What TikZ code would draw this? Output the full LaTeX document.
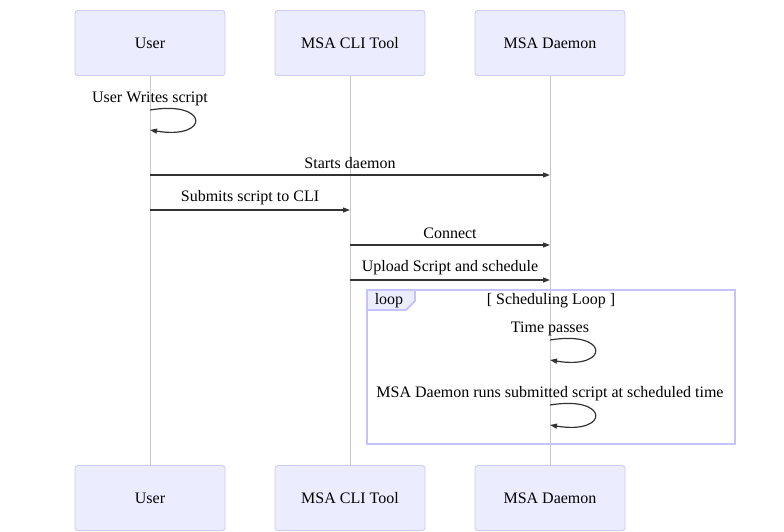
\documentclass[tikz,border=0pt]{standalone}
\usepackage{fontspec}
\setmainfont{Liberation Serif}
\usetikzlibrary{arrows.meta}
\definecolor{actfill}{HTML}{ECECFF}
\definecolor{actborder}{HTML}{CCCCF5}
\definecolor{loopborder}{HTML}{C4C4FA}
\definecolor{lifeline}{HTML}{C8C8C8}
\definecolor{msg}{HTML}{333333}
\begin{document}
\begin{tikzpicture}[x=1pt,y=-1pt,
  actor/.style={draw=actborder,fill=actfill,rounded corners=3pt,line width=0.9pt,
    minimum width=150pt,minimum height=65pt,inner sep=0pt,
    font=\fontsize{16}{19}\selectfont,text=black},
  life/.style={draw=lifeline,line width=0.9pt},
  msgline/.style={draw=msg,line width=1.2pt,-{Triangle[length=7pt,width=5pt]}},
  lbl/.style={font=\fontsize{16}{19}\selectfont,text=black,inner sep=0pt},
  loopframe/.style={draw=loopborder,line width=1.8pt}
]
\useasboundingbox (0,0) rectangle (784,531);
% actors top
\node[actor] (u1) at (150,43) {User};
\node[actor] (c1) at (350,43) {MSA CLI Tool};
\node[actor] (d1) at (550,43) {MSA Daemon};
% actors bottom
\node[actor] (u2) at (150,498) {User};
\node[actor] (c2) at (350,498) {MSA CLI Tool};
\node[actor] (d2) at (550,498) {MSA Daemon};
% lifelines
\draw[life] (u1.south) -- (u2.north);
\draw[life] (c1.south) -- (c2.north);
\draw[life] (d1.south) -- (d2.north);
% self message user
\coordinate (us1) at (150,110);
\coordinate (us2) at (150,130);
\node[lbl] (tus) at (150,99) {User Writes script};
\draw[msgline] (us1) .. controls (210,100) and (210,140) .. (us2);
% messages
\coordinate (m1a) at (150,175); \coordinate (m1b) at (550,175);
\node[lbl] (t1) at (350,163) {Starts daemon};
\draw[msgline] (m1a) -- (m1b);
\coordinate (m2a) at (150,210); \coordinate (m2b) at (350,210);
\node[lbl] (t2) at (250,198) {Submits script to CLI};
\draw[msgline] (m2a) -- (m2b);
\coordinate (m3a) at (350,245); \coordinate (m3b) at (550,245);
\node[lbl] (t3) at (450,233) {Connect};
\draw[msgline] (m3a) -- (m3b);
\coordinate (m4a) at (350,280); \coordinate (m4b) at (550,280);
\node[lbl] (t4) at (450,268) {Upload Script and schedule};
\draw[msgline] (m4a) -- (m4b);
% loop frame
\draw[loopframe] (367,290) rectangle (735,444);
\draw[loopframe,fill=actfill] (367,290) -- (415,290) -- (415,301) -- (406,310) -- (367,310) -- cycle;
\node[lbl] (tloop) at (389,300.5) {loop};
\node[lbl] (tcond) at (551,300.5) {[ Scheduling Loop ]};
% self messages daemon
\coordinate (s1a) at (550,340); \coordinate (s1b) at (550,360);
\node[lbl] (ts1) at (550,328.5) {Time passes};
\draw[msgline] (s1a) .. controls (610,330) and (610,370) .. (s1b);
\coordinate (s2a) at (550,405); \coordinate (s2b) at (550,425);
\node[lbl] (ts2) at (550,393.5) {MSA Daemon runs submitted script at scheduled time};
\draw[msgline] (s2a) .. controls (610,395) and (610,435) .. (s2b);
\end{tikzpicture}
\end{document}
